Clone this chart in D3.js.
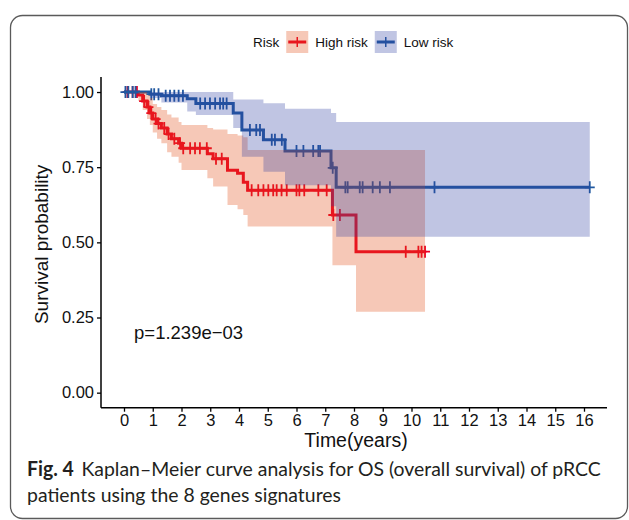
<!DOCTYPE html>
<html>
<head>
<meta charset="utf-8">
<script src="https://cdn.jsdelivr.net/npm/d3@7"></script>
<style>
  html, body { margin: 0; padding: 0; background: #fff; }
  svg { display: block; }
</style>
</head>
<body>
<svg id="chart" width="629" height="520"></svg>
<script>
// Kaplan–Meier estimates (time in years) with 95% confidence limits
const highTime  = [0, 0.5, 0.65, 0.8, 0.9, 1.0, 1.15, 1.3, 1.5, 1.65, 1.9, 2.0, 2.9, 3.1, 3.6, 3.95, 4.15, 4.3, 7.25, 8.07];
const highSurv  = [1, 0.99, 0.97, 0.95, 0.93, 0.91, 0.895, 0.88, 0.86, 0.845, 0.83, 0.813, 0.795, 0.778, 0.74, 0.73, 0.70, 0.673, 0.591, 0.469];
const highLower = [1, 0.97, 0.94, 0.91, 0.89, 0.865, 0.845, 0.83, 0.80, 0.785, 0.765, 0.741, 0.713, 0.686, 0.624, 0.61, 0.591, 0.553, 0.424, 0.269];
const highUpper = [1, 1, 1, 0.99, 0.98, 0.96, 0.95, 0.94, 0.925, 0.915, 0.90, 0.89, 0.88, 0.875, 0.86, 0.855, 0.85, 0.807, 0.807, 0.807];
const highEnd = 10.47;
const highCensor = [0.12, 0.3, 0.45, 0.7, 0.85, 0.95, 1.1, 1.2, 1.4, 1.55, 1.75, 1.95, 2.06, 2.3, 2.47, 2.64, 2.88, 3.2, 3.4,
  4.44, 4.67, 4.85, 5.02, 5.19, 5.31, 5.48, 5.66, 6.0, 6.1, 6.27, 6.76, 7.05, 7.28, 7.51, 9.8, 10.24, 10.35, 10.47];

const lowTime  = [0, 0.9, 1.3, 2.2, 2.5, 3.8, 4.1, 4.85, 5.6, 7.2, 7.38];
const lowSurv  = [1, 0.993, 0.988, 0.978, 0.962, 0.93, 0.874, 0.841, 0.804, 0.748, 0.683];
const lowLower = [1, 0.98, 0.965, 0.935, 0.924, 0.88, 0.785, 0.735, 0.69, 0.62, 0.519];
const lowUpper = [1, 1, 1, 1, 1, 0.975, 0.975, 0.963, 0.944, 0.93, 0.9];
const lowEnd = 16.2;
const lowCensor = [0.05, 0.15, 0.3, 0.4, 0.95, 1.05, 1.2, 1.45, 1.6, 1.75, 1.9, 2.05, 2.65, 2.82, 2.99, 3.17, 3.34, 3.45, 3.57,
  4.38, 4.6, 4.73, 5.14, 5.25, 5.49, 6.0, 6.24, 6.58, 6.76, 6.82, 7.26, 7.7, 7.78, 8.2, 8.3, 8.65, 8.9, 9.25, 10.8, 16.2];

const groupNames = ["High risk", "Low risk"];
const xTicks = d3.range(0, 17);
const yTicks = [0, 0.25, 0.5, 0.75, 1];
const pValueText = "p=1.239e\u221203";
const xTitle = "Time(years)";
const yTitle = "Survival probability";
const legendTitle = "Risk";
const captionBold = "Fig. 4";
const captionLine1 = "Kaplan\u2013Meier curve analysis for OS (overall survival) of pRCC";
const captionLine2 = "patients using the 8 genes signatures";

const lineColors = ["#eb0024", "#2058a0"];
const ribbonColors = ["#e14811", "#303ea2"];
const ribbonAlpha = 0.3;

const svg = d3.select("#chart");
const font = "'Liberation Sans', Arial, sans-serif";

// outer frame
svg.append("rect")
  .attr("x", 10.5).attr("y", 15.5).attr("width", 617).attr("height", 503)
  .attr("rx", 12).attr("ry", 12)
  .attr("fill", "none").attr("stroke", "#5a5a5a").attr("stroke-width", 1.3);

const plot = { left: 101, right: 607, top: 77, bottom: 407.7 };
const x = d3.scaleLinear().domain([-0.8, 16.8]).range([plot.left, plot.right]);
const y = d3.scaleLinear().domain([-0.05, 1.05]).range([plot.bottom, plot.top]);

function build(time, surv, lower, upper, end) {
  const pts = time.map((t, i) => ({ t, s: surv[i], lo: lower[i], up: upper[i] }));
  const last = pts[pts.length - 1];
  pts.push({ t: end, s: last.s, lo: last.lo, up: last.up });
  return pts;
}
function survAt(time, surv, t) {
  let v = surv[0];
  for (let i = 0; i < time.length; i++) if (time[i] <= t) v = surv[i];
  return v;
}

const groups = [
  { pts: build(highTime, highSurv, highLower, highUpper, highEnd), censor: highCensor.map(t => ({ t, s: survAt(highTime, highSurv, t) })) },
  { pts: build(lowTime, lowSurv, lowLower, lowUpper, lowEnd), censor: lowCensor.map(t => ({ t, s: survAt(lowTime, lowSurv, t) })) }
];

const line = d3.line().x(d => x(d.t)).y(d => y(d.s)).curve(d3.curveStepAfter);
const area = d3.area().x(d => x(d.t)).y0(d => y(d.lo)).y1(d => y(d.up)).curve(d3.curveStepAfter);

const g = svg.append("g");

// step curves and censor marks first, confidence ribbons laid over them
groups.forEach((grp, i) => {
  g.append("path").attr("d", line(grp.pts))
    .attr("fill", "none").attr("stroke", lineColors[i]).attr("stroke-width", 3);
  g.selectAll(null).data(grp.censor).enter().append("path")
    .attr("d", d => `M${x(d.t) - 5},${y(d.s)}H${x(d.t) + 5}M${x(d.t)},${y(d.s) - 6}V${y(d.s) + 6}`)
    .attr("stroke", lineColors[i]).attr("stroke-width", 1.8).attr("fill", "none");
});
groups.forEach((grp, i) => {
  g.append("path").attr("d", area(grp.pts))
    .attr("fill", ribbonColors[i]).attr("fill-opacity", ribbonAlpha).attr("stroke", "none");
});

// axes
const xAxis = svg.append("g").attr("transform", `translate(0,${plot.bottom})`)
  .call(d3.axisBottom(x).tickValues(xTicks).tickFormat(d3.format("d")).tickSizeOuter(0).tickSizeInner(4).tickPadding(3));
const yAxis = svg.append("g").attr("transform", `translate(${plot.left},0)`)
  .call(d3.axisLeft(y).tickValues(yTicks).tickFormat(d3.format(".2f")).tickSizeOuter(0).tickSizeInner(4).tickPadding(3));
[xAxis, yAxis].forEach(a => {
  a.select(".domain").attr("stroke", "#000").attr("stroke-width", 1.5);
  a.selectAll(".tick line").attr("stroke", "#000").attr("stroke-width", 1.3);
  a.selectAll(".tick text").attr("fill", "#111").style("font-family", font).style("font-size", "16.5px");
});
xAxis.select(".domain").attr("d", `M${plot.left},0H${plot.right}`);
yAxis.select(".domain").attr("d", `M0,${plot.top}V${plot.bottom}`);

svg.append("text").attr("x", (plot.left + plot.right) / 2 + 2).attr("y", 447)
  .attr("text-anchor", "middle").style("font-family", font).style("font-size", "19.5px").attr("fill", "#111")
  .text(xTitle);
svg.append("text").attr("transform", `translate(48,${(plot.top + plot.bottom) / 2 + 2}) rotate(-90)`)
  .attr("text-anchor", "middle").style("font-family", font).style("font-size", "19px").attr("fill", "#111")
  .text(yTitle);

// p-value annotation
svg.append("text").attr("x", x(0.35)).attr("y", y(0.2)).attr("dy", "0.35em")
  .style("font-family", font).style("font-size", "18.5px").attr("fill", "#111")
  .text(pValueText);

// legend
const legend = svg.append("g").attr("transform", "translate(0,42)");
let cx = 253;
const lt = legend.append("text").attr("x", cx).attr("dy", "0.35em")
  .style("font-family", font).style("font-size", "13.5px").attr("fill", "#111").text(legendTitle);
cx += lt.node().getComputedTextLength() + 7;
groupNames.forEach((name, i) => {
  const k = legend.append("g").attr("transform", `translate(${cx},0)`);
  k.append("line").attr("x1", 2).attr("x2", 20).attr("y1", 0).attr("y2", 0)
    .attr("stroke", lineColors[i]).attr("stroke-width", 3);
  k.append("line").attr("x1", 11).attr("x2", 11).attr("y1", -5).attr("y2", 5)
    .attr("stroke", lineColors[i]).attr("stroke-width", 1.5);
  k.append("rect").attr("x", 0).attr("y", -11).attr("width", 22).attr("height", 22)
    .attr("fill", ribbonColors[i]).attr("fill-opacity", ribbonAlpha);
  cx += 29;
  const t = legend.append("text").attr("x", cx).attr("dy", "0.35em")
    .style("font-family", font).style("font-size", "13.5px").attr("fill", "#111").text(name);
  cx += t.node().getComputedTextLength() + 7;
});

// figure caption
const capFont = "Lato, 'Open Sans', sans-serif";
const cap = svg.append("g").attr("transform", "translate(27,0)");
const c1 = cap.append("text").attr("y", 476).style("font-family", capFont).style("font-size", "20px").attr("fill", "#231f20");
c1.append("tspan").style("font-weight", "700").text(captionBold);
c1.append("tspan").attr("dx", 8).text(captionLine1);
const c2 = cap.append("text").attr("y", 502).style("font-family", capFont).style("font-size", "20px").attr("fill", "#231f20")
  .text(captionLine2);
const w1 = c1.node().getComputedTextLength() + 8;
const sx = 574 / w1;
cap.attr("transform", `translate(27,0) scale(${sx},1)`);
</script>
</body>
</html>
